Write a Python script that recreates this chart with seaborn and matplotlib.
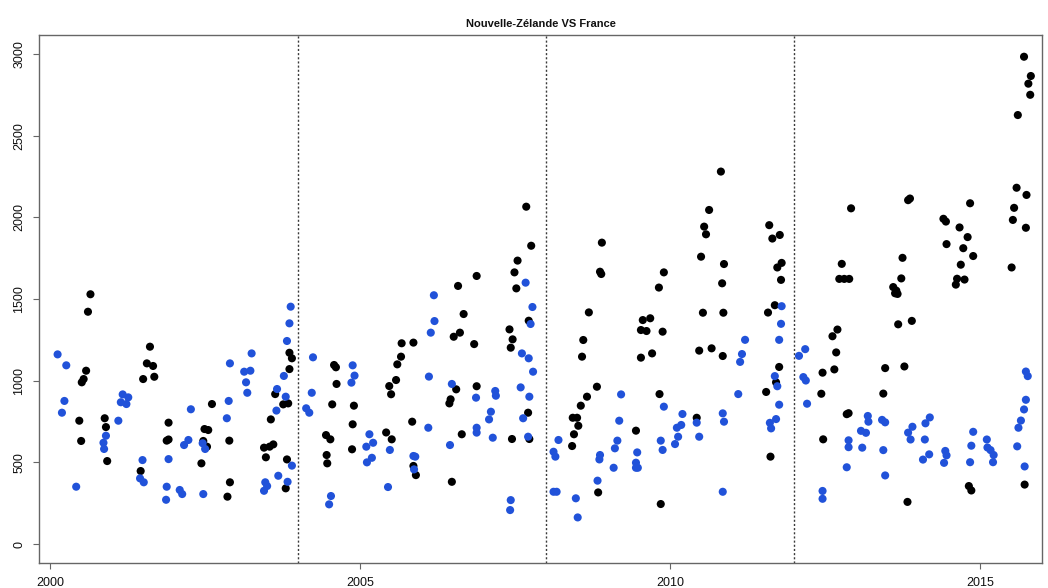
import matplotlib
matplotlib.use("Agg")
import matplotlib.pyplot as plt
import seaborn as sns
import pandas as pd

titre = "Nouvelle-Zélande VS France"

noir_annee = [
    2000.47, 2000.50, 2000.51, 2000.54, 2000.58, 2000.61, 2000.65, 2000.88, 2000.90, 2000.92,
    2001.46, 2001.50, 2001.56, 2001.61, 2001.66, 2001.68, 2001.88, 2001.91, 2001.91,
    2002.44, 2002.47, 2002.49, 2002.53, 2002.55, 2002.61, 2002.86, 2002.89, 2002.90,
    2003.45, 2003.48, 2003.54, 2003.56, 2003.60, 2003.63, 2003.76, 2003.80, 2003.82, 2003.84,
    2003.86, 2003.86, 2003.90,
    2004.45, 2004.46, 2004.47, 2004.52, 2004.55, 2004.58, 2004.61, 2004.62, 2004.87, 2004.88, 2004.90,
    2005.42, 2005.47, 2005.50, 2005.51, 2005.58, 2005.60, 2005.66, 2005.67, 2005.84, 2005.86,
    2005.86, 2005.90,
    2006.44, 2006.46, 2006.48, 2006.51, 2006.55, 2006.58, 2006.61, 2006.64, 2006.67, 2006.84,
    2006.88, 2006.88,
    2007.41, 2007.43, 2007.45, 2007.46, 2007.49, 2007.52, 2007.54, 2007.68, 2007.71, 2007.72,
    2007.73, 2007.76,
    2008.42, 2008.43, 2008.45, 2008.50, 2008.52, 2008.56, 2008.58, 2008.60, 2008.66, 2008.69,
    2008.82, 2008.84, 2008.87, 2008.89, 2008.90,
    2009.45, 2009.53, 2009.53, 2009.56, 2009.62, 2009.68, 2009.71, 2009.82, 2009.83, 2009.85,
    2009.88, 2009.90,
    2010.43, 2010.47, 2010.50, 2010.53, 2010.55, 2010.58, 2010.63, 2010.67, 2010.82, 2010.84,
    2010.85, 2010.86, 2010.87,
    2011.55, 2011.58, 2011.60, 2011.62, 2011.65, 2011.69, 2011.71, 2011.73, 2011.76, 2011.77,
    2011.79, 2011.80,
    2012.44, 2012.46, 2012.47, 2012.62, 2012.65, 2012.68, 2012.70, 2012.73, 2012.77, 2012.81,
    2012.85, 2012.88, 2012.89, 2012.92,
    2013.44, 2013.47, 2013.60, 2013.63, 2013.65, 2013.67, 2013.68, 2013.73, 2013.75, 2013.78,
    2013.83, 2013.84, 2013.87, 2013.90,
    2014.41, 2014.45, 2014.46, 2014.61, 2014.63, 2014.67, 2014.69, 2014.73, 2014.75, 2014.80,
    2014.82, 2014.84, 2014.86, 2014.89,
    2015.51, 2015.53, 2015.55, 2015.59, 2015.61, 2015.71, 2015.72, 2015.74, 2015.75, 2015.78,
    2015.81, 2015.82,
]
noir_valeur = [
    755, 631, 990, 1010, 1061, 1422, 1529, 770, 716, 508,
    447, 1010, 1106, 1208, 1090, 1024, 633, 743, 640,
    494, 631, 704, 596, 698, 857, 290, 633, 378,
    590, 531, 596, 763, 610, 918, 855, 341, 518, 861,
    1071, 1171, 1137,
    667, 545, 494, 641, 855, 1096, 1082, 980, 580, 733, 847,
    683, 967, 917, 641, 1004, 1100, 1147, 1229, 749, 1233,
    478, 422,
    861, 886, 381, 1269, 947, 1580, 1294, 672, 1408, 1224,
    1641, 966,
    1314, 1202, 643, 1253, 1663, 1565, 1735, 2065, 804, 1367,
    643, 1826,
    600, 773, 672, 773, 724, 847, 1147, 1249, 902, 1418,
    963, 316, 1667, 1653, 1845,
    694, 1310, 1141, 1371, 1304, 1382, 1167, 1570, 918, 245,
    1300, 1663,
    773, 1184, 1759, 1416, 1943, 1896, 2045, 1198, 2280, 1596,
    1151, 1416, 1714,
    931, 1417, 1952, 535, 1870, 1462, 990, 1693, 1084, 1892,
    1617, 1721,
    920, 1049, 641, 1272, 1069, 1173, 1313, 1623, 1715, 1623,
    795, 801, 1623, 2055,
    921, 1077, 1573, 1535, 1551, 1531, 1345, 1626, 1752, 1087,
    258, 2105, 2115, 1366,
    1991, 1974, 1836, 1588, 1624, 1938, 1710, 1811, 1619, 1879,
    355, 2086, 328, 1763,
    1693, 1984, 2058, 2181, 2626, 2983, 364, 1936, 2137, 2818,
    2750, 2865,
]

bleu_annee = [
    2000.12, 2000.19, 2000.23, 2000.26, 2000.42, 2000.86, 2000.87, 2000.90,
    2001.10, 2001.14, 2001.17, 2001.23, 2001.26, 2001.45, 2001.49, 2001.51, 2001.87, 2001.88, 2001.91,
    2002.09, 2002.13, 2002.16, 2002.23, 2002.27, 2002.46, 2002.47, 2002.50, 2002.85, 2002.88, 2002.90,
    2003.13, 2003.16, 2003.18, 2003.23, 2003.25, 2003.45, 2003.47, 2003.50, 2003.65, 2003.66,
    2003.68, 2003.77, 2003.80, 2003.82, 2003.83, 2003.86, 2003.88, 2003.90,
    2004.13, 2004.18, 2004.22, 2004.24, 2004.50, 2004.53, 2004.86, 2004.88, 2004.91,
    2005.10, 2005.11, 2005.15, 2005.19, 2005.21, 2005.45, 2005.48, 2005.86, 2005.87, 2005.89,
    2006.10, 2006.11, 2006.14, 2006.19, 2006.20, 2006.45, 2006.48, 2006.87, 2006.88, 2006.88,
    2007.08, 2007.11, 2007.14, 2007.18, 2007.19, 2007.42, 2007.43, 2007.59, 2007.61, 2007.63,
    2007.67, 2007.71, 2007.72, 2007.73, 2007.75, 2007.78, 2007.79,
    2008.12, 2008.12, 2008.15, 2008.17, 2008.20, 2008.48, 2008.51, 2008.83, 2008.86, 2008.87,
    2009.09, 2009.11, 2009.15, 2009.18, 2009.21, 2009.45, 2009.45, 2009.47, 2009.48, 2009.85,
    2009.88, 2009.90,
    2010.08, 2010.11, 2010.13, 2010.18, 2010.20, 2010.43, 2010.47, 2010.85, 2010.85, 2010.87,
    2011.10, 2011.13, 2011.16, 2011.21, 2011.61, 2011.63, 2011.69, 2011.71, 2011.73, 2011.76,
    2011.76, 2011.79, 2011.80,
    2012.08, 2012.15, 2012.18, 2012.19, 2012.21, 2012.46, 2012.46, 2012.85, 2012.88, 2012.88,
    2013.08, 2013.10, 2013.16, 2013.19, 2013.20, 2013.42, 2013.44, 2013.47, 2013.47,
    2013.84, 2013.88, 2013.91,
    2014.08, 2014.11, 2014.12, 2014.18, 2014.19, 2014.42, 2014.44, 2014.46, 2014.84, 2014.86, 2014.89,
    2015.11, 2015.12, 2015.17, 2015.21, 2015.22, 2015.60, 2015.62, 2015.66, 2015.71, 2015.72,
    2015.74, 2015.74, 2015.77,
]
bleu_valeur = [
    1161, 804, 876, 1094, 351, 620, 582, 663,
    755, 868, 916, 857, 898, 402, 514, 378, 271, 351, 520,
    331, 306, 606, 637, 825, 617, 306, 582, 770, 876, 1106,
    1055, 990, 926, 1061, 1167, 326, 378, 355, 817, 949,
    418, 1029, 902, 1243, 381, 1351, 1453, 480,
    831, 804, 926, 1143, 243, 294, 988, 1094, 1031,
    596, 500, 672, 528, 620, 349, 576, 539, 457, 535,
    712, 1025, 1294, 1523, 1365, 606, 980, 896, 712, 682,
    763, 810, 651, 937, 908, 208, 269, 959, 1167, 770,
    1600, 657, 1137, 902, 1347, 1451, 1055,
    565, 320, 535, 320, 637, 280, 163, 388, 518, 545,
    467, 586, 633, 755, 916, 467, 498, 561, 467, 633,
    576, 841,
    612, 712, 657, 729, 796, 743, 657, 320, 800, 749,
    918, 1115, 1163, 1250, 742, 708, 1028, 765, 966, 853,
    1250, 1348, 1456,
    1152, 1022, 1193, 1001, 859, 325, 277, 470, 635, 593,
    693, 590, 681, 784, 749, 760, 575, 745, 420,
    682, 640, 718,
    517, 640, 739, 549, 775, 497, 570, 543, 501, 602, 687,
    640, 591, 575, 501, 545, 598, 712, 756, 824, 475,
    883, 1056, 1028,
]

separations = [2004.0, 2008.0, 2012.0]
x_ticks = [2000, 2005, 2010, 2015]
y_ticks = [0, 500, 1000, 1500, 2000, 2500, 3000]

sns.set_theme(style="white")
plt.rcParams['font.family'] = ['Liberation Sans', 'DejaVu Sans']

df = pd.DataFrame({
    "annee": noir_annee + bleu_annee,
    "valeur": noir_valeur + bleu_valeur,
    "serie": ["noir"] * len(noir_annee) + ["bleu"] * len(bleu_annee),
})

W, H = 1048, 588
fig = plt.figure(figsize=(W / 100, H / 100), dpi=100)
fig.patch.set_facecolor("white")
ax = fig.add_axes([39 / W, (H - 563) / H, (1042 - 39) / W, (563 - 35) / H])
ax.set_facecolor("white")

sns.scatterplot(data=df, x="annee", y="valeur", hue="serie",
                palette={"noir": "#000000", "bleu": "#2152d9"},
                s=34, linewidth=0, legend=False, ax=ax, zorder=3)

for xv in separations:
    ax.axvline(xv, color="#3a3a3a", linestyle=(0, (1.5, 1.5)), linewidth=1.0, zorder=2)

ax.set_xlim(1999.82, 2016.0)
ax.set_ylim(-116, 3116)
ax.set_xticks(x_ticks)
ax.set_yticks(y_ticks)
ax.set_xlabel("")
ax.set_ylabel("")

for sp in ax.spines.values():
    sp.set_visible(True)
    sp.set_color("#666666")
    sp.set_linewidth(1.0)

ax.tick_params(axis="both", direction="out", length=4, width=0.8, color="#666666",
               labelsize=9, labelcolor="#111111", bottom=True, left=True)
ax.tick_params(axis="x", pad=6)
ax.tick_params(axis="y", pad=6)
for lab in ax.get_yticklabels():
    lab.set_rotation(90)
    lab.set_va("center")

ax.set_title(titre, fontsize=8, fontweight="bold", pad=6, color="#111111")

fig.savefig("out.png", dpi=100, facecolor="white")
